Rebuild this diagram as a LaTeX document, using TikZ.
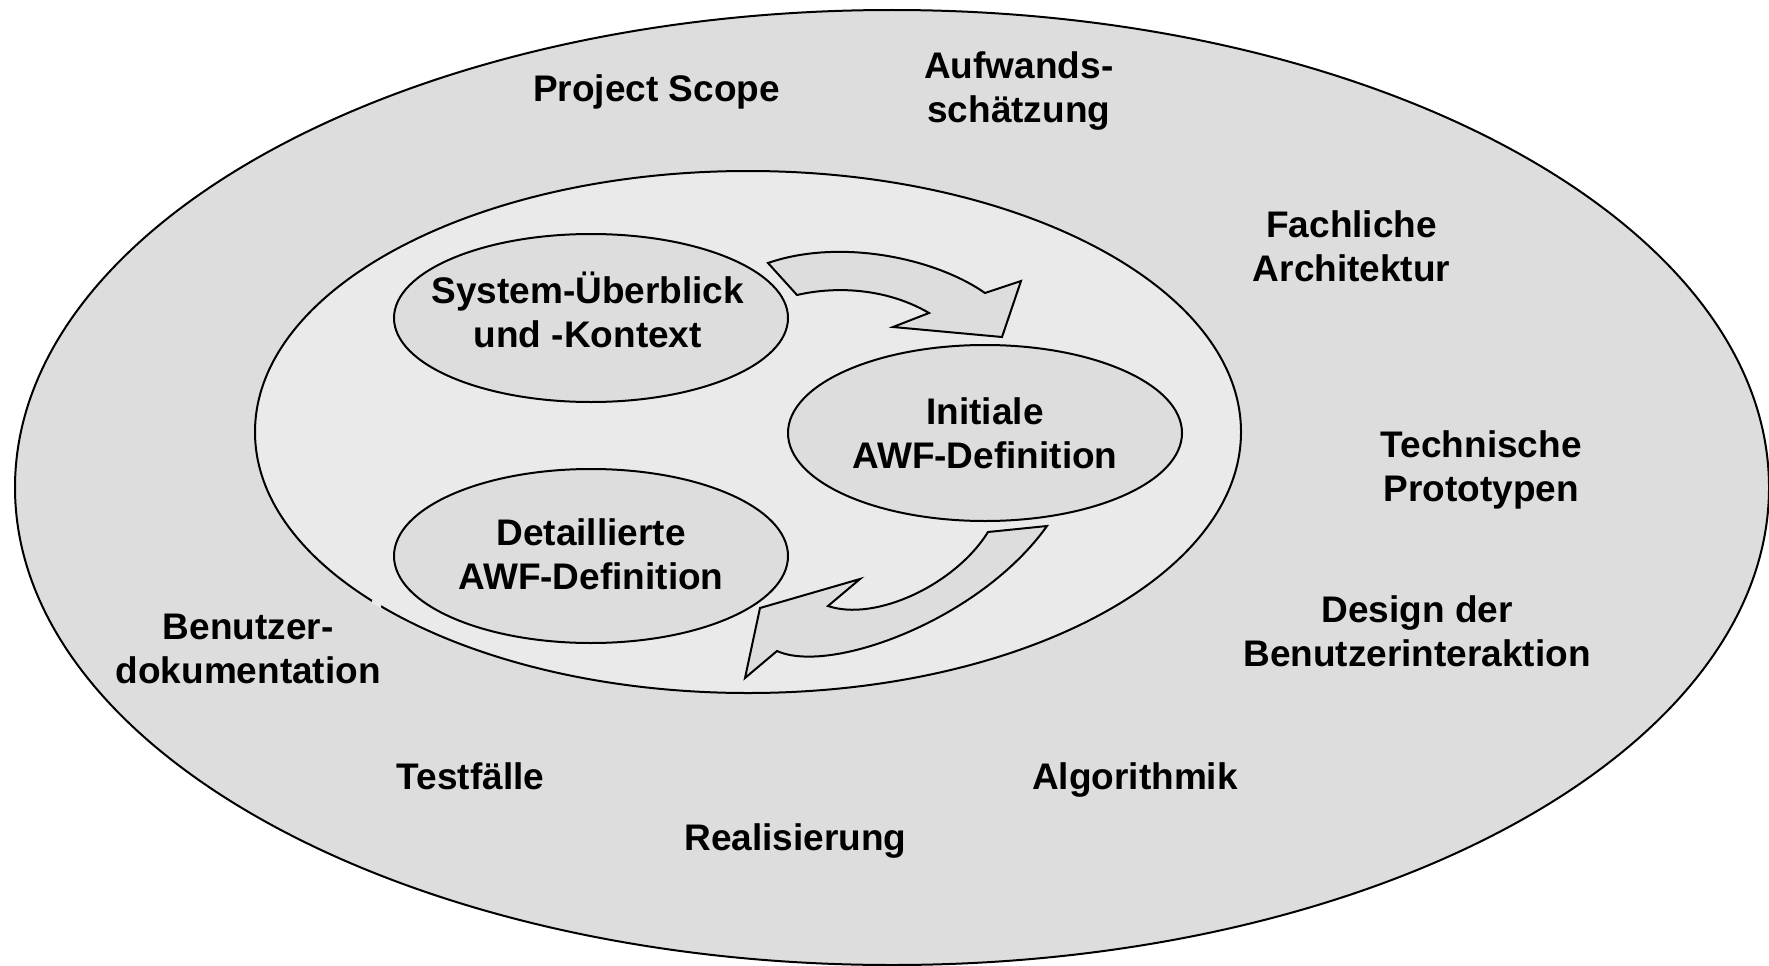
\documentclass[tikz,border=0pt]{standalone}
\usepackage{fontspec}
\setmainfont{Liberation Sans}
\definecolor{outerfill}{HTML}{DDDDDD}
\definecolor{innerfill}{HTML}{EAEAEA}
\tikzset{
  lbl/.style={font=\fontsize{37}{44}\selectfont\bfseries, align=center, inner sep=0pt},
  sub/.style={ellipse, draw=black, line width=2pt, fill=outerfill, minimum width=394pt, inner sep=0pt},
  bigarrow/.style={draw=black, line width=2pt, fill=outerfill, line join=miter},
}
\usetikzlibrary{shapes.geometric}
\begin{document}
\begin{tikzpicture}[x=1pt,y=-1pt]
\useasboundingbox (0,0) rectangle (1769,966);
% outer ellipse
\draw[line width=2pt, fill=outerfill] (892,487.5) ellipse [x radius=877, y radius=477.5];
% inner ellipse
\draw[line width=2pt, fill=innerfill] (748,432) ellipse [x radius=493, y radius=261];
\fill[innerfill] (372,599.5) -- (381,604) -- (381,608) -- (372,603.5) -- cycle;
% sub ellipses
\node[sub, minimum height=168pt] (sys) at (591,318) {};
\node[sub, minimum height=176pt] (ini) at (985,433) {};
\node[sub, minimum height=174pt] (det) at (591,556) {};
\node[lbl] (systxt) at (587.8,310) {System-Überblick\\und -Kontext};
\node[lbl] (initxt) at (985,433.5) {Initiale\\AWF-Definition};
\node[lbl] (dettxt) at (591,554.5) {Detaillierte\\AWF-Definition};
% arrows
\draw[bigarrow] (768,263) .. controls (840,238) and (935,258) .. (985,293)
  -- (1021,281) -- (1002,337) -- (893,327) -- (929,313)
  .. controls (890,290) and (840,285) .. (797,295) -- cycle;
\draw[bigarrow] (988,532) .. controls (955,585) and (875,622) .. (828,606)
  -- (860,579) -- (760,608) -- (745,678) -- (777,651)
  .. controls (830,675) and (980,620) .. (1047,526) -- cycle;
% outer labels
\node[lbl] (scope) at (656.6,92) {Project Scope};
\node[lbl] (aufw) at (1018.8,91.5) {Aufwands-\\schätzung};
\node[lbl] (fach) at (1351.6,246.5) {Fachliche\\Architektur};
\node[lbl] (tech) at (1481.3,470) {Technische\\Prototypen};
\node[lbl] (design) at (1417,631.5) {Design der\\Benutzerinteraktion};
\node[lbl] (benu) at (248.2,649) {Benutzer-\\dokumentation};
\node[lbl] (test) at (470.5,776.5) {Testfälle};
\node[lbl] (algo) at (1135,780) {Algorithmik};
\node[lbl] (real) at (795.4,841) {Realisierung};
\end{tikzpicture}
\end{document}
